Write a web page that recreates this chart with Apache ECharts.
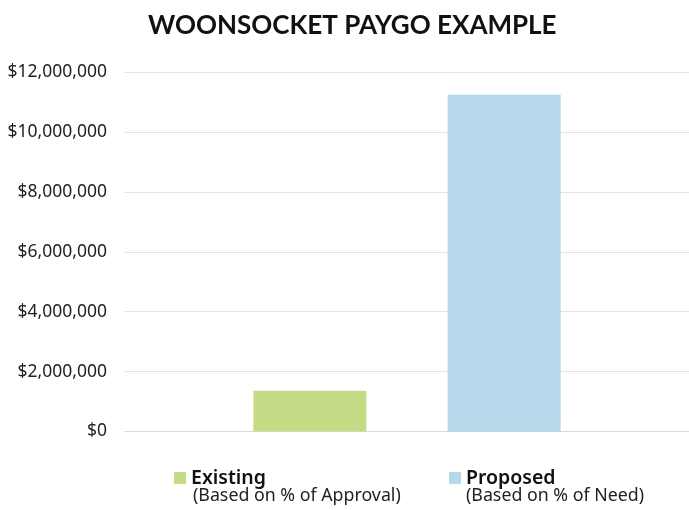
<!DOCTYPE html>
<html>
<head>
<meta charset="utf-8">
<script src="https://cdn.jsdelivr.net/npm/echarts@6/dist/echarts.min.js"></script>
<style>
html,body{margin:0;padding:0;background:#fff;}
#chart{width:689px;height:510px;}
</style>
</head>
<body>
<div id="chart"></div>
<script>
const titleText = 'WOONSOCKET PAYGO EXAMPLE';
const categories = [''];
const seriesNames = ['Existing', 'Proposed'];
const seriesNotes = ['(Based on % of Approval)', '(Based on % of Need)'];
const existingValues = [1360000];
const proposedValues = [11240000];
const yTicks = [0, 2000000, 4000000, 6000000, 8000000, 10000000, 12000000];
const colors = ['#c5dc87', '#b5d8eb'];

const FONT = 'Noto Sans';
const chart = echarts.init(document.getElementById('chart'), null, {renderer: 'canvas'});

function fmt(v) {
  return '$' + v.toLocaleString('en-US');
}

const option = {
  animation: false,
  backgroundColor: '#fff',
  title: {
    text: titleText,
    left: 143,
    top: 8,
    textStyle: {fontFamily: 'Lato', fontWeight: 'bold', fontSize: 26, color: '#111'}
  },
  grid: {left: 125, right: 0, top: 72, bottom: 78.5},
  legend: [0, 1].map(i => ({
    data: [seriesNames[i]],
    left: [169, 444][i],
    top: 463,
    icon: 'rect',
    itemWidth: 12,
    itemHeight: 12,
    itemGap: 6,
    textStyle: {fontFamily: FONT, fontSize: 19.5, fontWeight: 600, color: '#111'}
  })),
  xAxis: {
    type: 'category',
    data: categories,
    axisLine: {show: true, lineStyle: {color: '#d9d9d9'}},
    axisTick: {show: false},
    axisLabel: {show: false}
  },
  yAxis: {
    type: 'value',
    min: yTicks[0],
    max: yTicks[yTicks.length - 1],
    interval: yTicks[1] - yTicks[0],
    axisLine: {show: false},
    axisTick: {show: false},
    splitLine: {lineStyle: {color: '#e3e3e3'}},
    axisLabel: {
      formatter: fmt,
      margin: 18,
      fontFamily: FONT,
      fontSize: 17.5,
      color: '#222'
    }
  },
  series: [
    {name: seriesNames[0], type: 'bar', data: existingValues, barWidth: 113, barGap: '72%', itemStyle: {color: colors[0]}},
    {name: seriesNames[1], type: 'bar', data: proposedValues, barWidth: 113, itemStyle: {color: colors[1]}}
  ],
  graphic: [0, 1].map(i => ({
    type: 'text',
    left: [193, 466][i],
    top: 487,
    style: {text: seriesNotes[i], fontFamily: FONT, fontSize: 17.8, fill: '#222'}
  }))
};
chart.setOption(option);
</script>
</body>
</html>
